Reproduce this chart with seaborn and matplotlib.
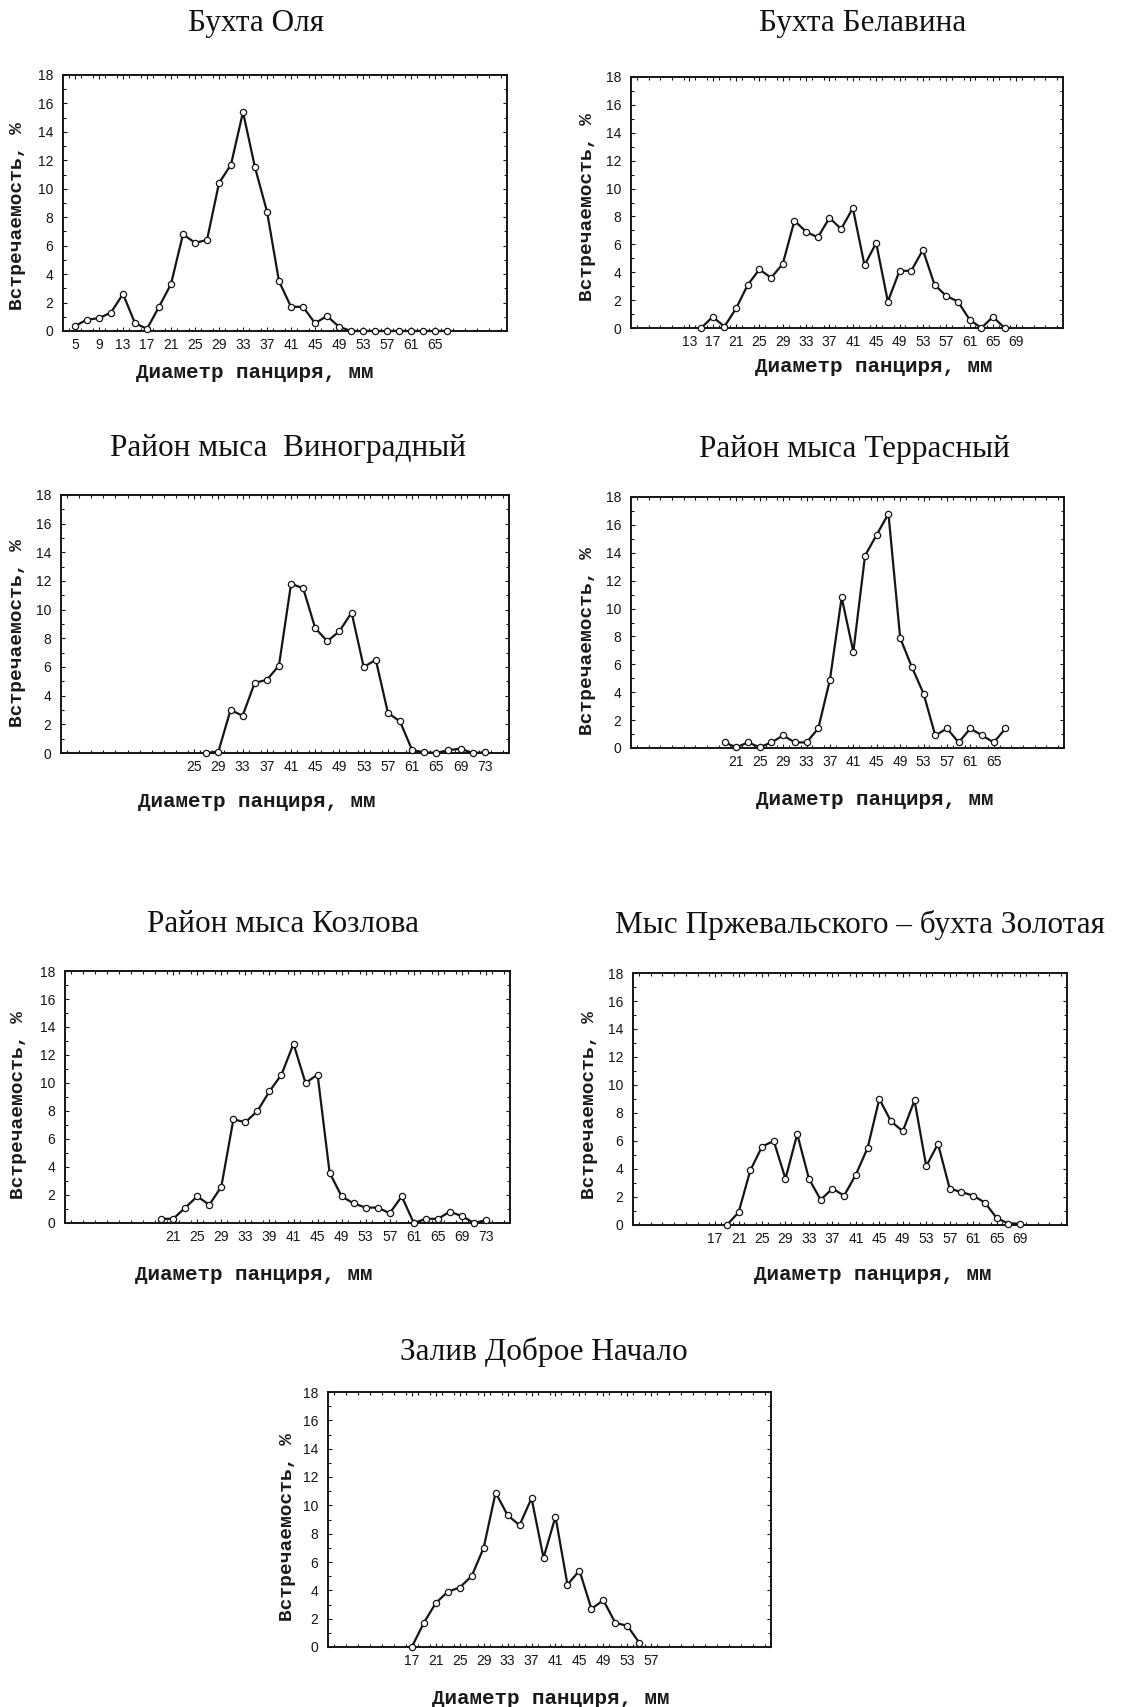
import matplotlib
matplotlib.use("Agg")
import matplotlib.pyplot as plt
from matplotlib.ticker import MultipleLocator
import pandas as pd
import seaborn as sns

# ---------------- data (size class, mm  ->  frequency, %) ----------------
olya_x = list(range(5, 69, 2))
olya_y = [0.35, 0.8, 0.9, 1.3, 2.6, 0.55, 0.15, 1.7, 3.3, 6.8, 6.2, 6.4, 10.4, 11.7,
          15.4, 11.5, 8.4, 3.5, 1.7, 1.7, 0.55, 1.05, 0.3, 0, 0, 0, 0, 0, 0, 0, 0, 0]
olya_ticks = [5, 9, 13, 17, 21, 25, 29, 33, 37, 41, 45, 49, 53, 57, 61, 65]

belav_x = list(range(15, 69, 2))
belav_y = [0, 0.8, 0.1, 1.4, 3.1, 4.2, 3.6, 4.6, 7.7, 6.9, 6.5, 7.9, 7.1, 8.6, 4.5,
           6.1, 1.9, 4.1, 4.1, 5.6, 3.1, 2.3, 1.9, 0.6, 0, 0.8, 0]
belav_ticks = [13, 17, 21, 25, 29, 33, 37, 41, 45, 49, 53, 57, 61, 65, 69]

vinog_x = list(range(27, 75, 2))
vinog_y = [0, 0.1, 3.0, 2.6, 4.9, 5.1, 6.1, 11.8, 11.5, 8.7, 7.8, 8.5, 9.8, 6.0, 6.5,
           2.8, 2.2, 0.2, 0.05, 0, 0.2, 0.3, 0, 0.05]
vinog_ticks = [25, 29, 33, 37, 41, 45, 49, 53, 57, 61, 65, 69, 73]

terr_x = list(range(19, 69, 2))
terr_y = [0.4, 0.05, 0.4, 0.05, 0.4, 0.9, 0.4, 0.4, 1.4, 4.9, 10.8, 6.9, 13.8, 15.3,
          16.8, 7.9, 5.8, 3.9, 0.9, 1.4, 0.4, 1.4, 0.9, 0.4, 1.4]
terr_ticks = [21, 25, 29, 33, 37, 41, 45, 49, 53, 57, 61, 65]

kozl_x = list(range(19, 75, 2))
kozl_y = [0.3, 0.3, 1.1, 1.9, 1.3, 2.6, 7.4, 7.2, 8.0, 9.4, 10.6, 12.8, 10.0, 10.6,
          3.6, 1.9, 1.4, 1.1, 1.1, 0.7, 1.9, 0, 0.3, 0.3, 0.8, 0.5, 0, 0.2]
kozl_ticks = [21, 25, 29, 33, 37, 41, 45, 49, 53, 57, 61, 65, 69, 73]
kozl_ticklabels = ["21", "25", "29", "33", "39", "41", "45", "49", "53", "57",
                   "61", "65", "69", "73"]

przh_x = list(range(19, 71, 2))
przh_y = [0, 0.9, 3.9, 5.6, 6.0, 3.3, 6.5, 3.3, 1.8, 2.6, 2.1, 3.6, 5.5, 9.0, 7.4,
          6.7, 8.9, 4.2, 5.8, 2.6, 2.35, 2.1, 1.6, 0.5, 0.1, 0.1]
przh_ticks = [17, 21, 25, 29, 33, 37, 41, 45, 49, 53, 57, 61, 65, 69]

dobr_x = list(range(17, 57, 2))
dobr_y = [0, 1.7, 3.1, 3.9, 4.2, 5.0, 7.0, 10.9, 9.3, 8.6, 10.5, 6.3, 9.2, 4.4, 5.4,
          2.7, 3.3, 1.7, 1.5, 0.3]
dobr_ticks = [17, 21, 25, 29, 33, 37, 41, 45, 49, 53, 57]

titles = ["Бухта Оля", "Бухта Белавина", "Район мыса  Виноградный",
          "Район мыса Террасный", "Район мыса Козлова",
          "Мыс Пржевальского – бухта Золотая", "Залив Доброе Начало"]
xlabel = "Диаметр панциря, мм"
ylabel = "Встречаемость, %"

series = [
    (olya_x, olya_y, olya_ticks, None),
    (belav_x, belav_y, belav_ticks, None),
    (vinog_x, vinog_y, vinog_ticks, None),
    (terr_x, terr_y, terr_ticks, None),
    (kozl_x, kozl_y, kozl_ticks, kozl_ticklabels),
    (przh_x, przh_y, przh_ticks, None),
    (dobr_x, dobr_y, dobr_ticks, None),
]

# ---------------- layout (pixels in the 1121 x 1707 canvas) ----------------
W, H = 1121, 1707
axes_px = [(63, 75, 507, 331), (631, 77, 1063, 328),
           (61, 495, 509, 753), (631, 497, 1064, 748),
           (65, 971, 510, 1223), (633, 973, 1067, 1225),
           (328, 1392, 771, 1647)]
title_px = [(256, 31), (863, 31), (288, 456), (854, 457), (283, 932), (860, 933), (544, 1360)]
xlabel_px = [(255, 373), (874, 367), (257, 802), (875, 800), (254, 1275), (873, 1275), (551, 1698)]
ylabel_px = [(18, 216), (588, 207), (18, 633), (588, 641), (19, 1105), (589, 1105), (287, 1527)]

sns.set_theme(style="white")
plt.rcParams["font.family"] = ["Liberation Sans", "DejaVu Sans"]

fig = plt.figure(figsize=(W / 100, H / 100), dpi=100)
fig.patch.set_facecolor("white")

ink = "#151515"
for i, (xs, ys, ticks, tlabels) in enumerate(series):
    l, t, r, b = axes_px[i]
    ax = fig.add_axes([l / W, 1 - b / H, (r - l) / W, (b - t) / H])
    df = pd.DataFrame({"d": xs, "p": ys})
    sns.lineplot(data=df, x="d", y="p", ax=ax, color=ink, linewidth=1.6,
                 marker="o", markersize=4.5, markerfacecolor="white",
                 markeredgecolor=ink, markeredgewidth=0.9, clip_on=False, zorder=3)
    ax.set_xlim(3, 77)
    ax.set_ylim(0, 18)
    ax.set_xticks(ticks)
    ax.set_xticklabels([str(v) for v in ticks] if tlabels is None else tlabels)
    ax.set_yticks(range(0, 19, 2))
    ax.xaxis.set_minor_locator(MultipleLocator(2))
    ax.yaxis.set_minor_locator(MultipleLocator(1))
    ax.tick_params(which="both", direction="in", top=True, right=True,
                   bottom=True, left=True, color=ink, width=0.8)
    ax.tick_params(which="major", length=3, labelsize=10, labelcolor="#151515")
    ax.tick_params(which="minor", length=2)
    ax.tick_params(axis="x", pad=5)
    ax.tick_params(axis="y", pad=7)
    for sp in ax.spines.values():
        sp.set_visible(True)
        sp.set_color(ink)
        sp.set_linewidth(1.4)
    ax.set_xlabel("")
    ax.set_ylabel("")
    ax.grid(False)

    tx, ty = title_px[i]
    fig.text(tx / W, 1 - ty / H, titles[i], ha="center", va="baseline",
             fontsize=22.5, family=["Liberation Serif", "DejaVu Serif"], color="#111111")
    xx, xy = xlabel_px[i]
    fig.text(xx / W, 1 - xy / H, xlabel, ha="center", va="center", fontsize=15,
             family=["Liberation Mono", "DejaVu Sans Mono"], fontweight="bold", color="#1a1a1a")
    yx, yy = ylabel_px[i]
    fig.text(yx / W, 1 - yy / H, ylabel, ha="center", va="center", rotation=90,
             fontsize=14, family=["Liberation Mono", "DejaVu Sans Mono"],
             fontweight="bold", color="#1a1a1a")

fig.savefig("out.png", dpi=100, facecolor="white")
